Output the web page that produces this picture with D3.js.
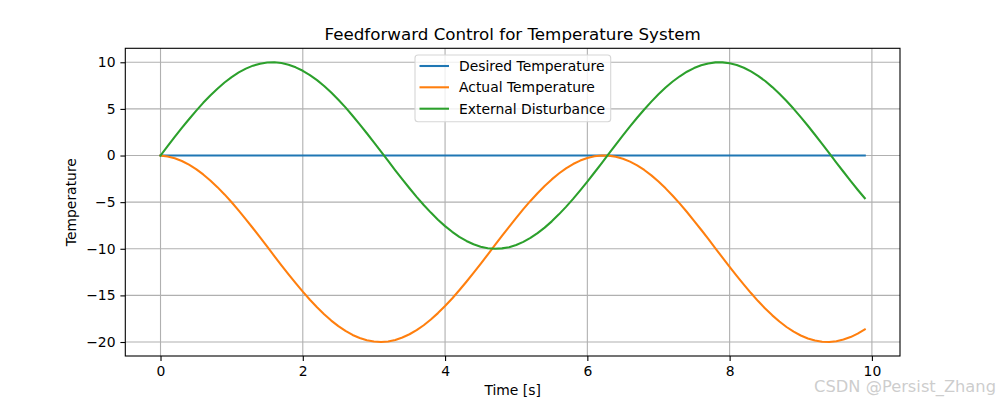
<!DOCTYPE html>
<html>
<head>
<meta charset="utf-8">
<script src="https://cdn.jsdelivr.net/npm/d3@7"></script>
<style>
  html, body { margin: 0; padding: 0; background: #fff; }
  svg { display: block; font-family: "DejaVu Sans", sans-serif; }
</style>
</head>
<body>
<svg id="chart" width="1000" height="400"></svg>
<script>
const time = [0.0,0.1,0.2,0.3,0.4,0.5,0.6,0.7,0.8,0.9,1.0,1.1,1.2,1.3,1.4,1.5,1.6,1.7,1.8,1.9,
  2.0,2.1,2.2,2.3,2.4,2.5,2.6,2.7,2.8,2.9,3.0,3.1,3.2,3.3,3.4,3.5,3.6,3.7,3.8,3.9,
  4.0,4.1,4.2,4.3,4.4,4.5,4.6,4.7,4.8,4.9,5.0,5.1,5.2,5.3,5.4,5.5,5.6,5.7,5.8,5.9,
  6.0,6.1,6.2,6.3,6.4,6.5,6.6,6.7,6.8,6.9,7.0,7.1,7.2,7.3,7.4,7.5,7.6,7.7,7.8,7.9,
  8.0,8.1,8.2,8.3,8.4,8.5,8.6,8.7,8.8,8.9,9.0,9.1,9.2,9.3,9.4,9.5,9.6,9.7,9.8,9.9];

const desired = [0,0,0,0,0,0,0,0,0,0,0,0,0,0,0,0,0,0,0,0,
  0,0,0,0,0,0,0,0,0,0,0,0,0,0,0,0,0,0,0,0,
  0,0,0,0,0,0,0,0,0,0,0,0,0,0,0,0,0,0,0,0,
  0,0,0,0,0,0,0,0,0,0,0,0,0,0,0,0,0,0,0,0,
  0,0,0,0,0,0,0,0,0,0,0,0,0,0,0,0,0,0,0,0];

const actual = [0,-0.10,-0.30,-0.59,-0.98,-1.46,-2.03,-2.67,-3.39,-4.17,
  -5.01,-5.91,-6.84,-7.80,-8.79,-9.78,-10.78,-11.77,-12.75,-13.69,
  -14.60,-15.47,-16.28,-17.02,-17.70,-18.30,-18.81,-19.24,-19.57,-19.81,
  -19.95,-20.00,-19.94,-19.78,-19.52,-19.17,-18.73,-18.20,-17.59,-16.90,
  -16.14,-15.33,-14.45,-13.54,-12.59,-11.61,-10.62,-9.62,-8.62,-7.64,
  -6.68,-5.75,-4.87,-4.04,-3.26,-2.56,-1.93,-1.38,-0.91,-0.54,
  -0.26,-0.08,0.01,-0.01,-0.13,-0.34,-0.65,-1.06,-1.55,-2.13,
  -2.79,-3.52,-4.31,-5.16,-6.06,-7.00,-7.96,-8.95,-9.95,-10.95,
  -11.94,-12.91,-13.85,-14.75,-15.61,-16.41,-17.14,-17.80,-18.39,-18.89,
  -19.30,-19.62,-19.84,-19.97,-19.99,-19.92,-19.74,-19.47,-19.10,-18.65];

const disturbance = [0,1.00,1.99,2.96,3.89,4.79,5.65,6.44,7.17,7.83,
  8.41,8.91,9.32,9.64,9.85,9.97,10.00,9.92,9.74,9.46,
  9.09,8.63,8.09,7.46,6.76,5.98,5.16,4.27,3.35,2.39,
  1.41,0.42,-0.58,-1.58,-2.56,-3.51,-4.43,-5.30,-6.12,-6.88,
  -7.57,-8.18,-8.72,-9.16,-9.52,-9.78,-9.94,-10.00,-9.96,-9.83,
  -9.59,-9.26,-8.84,-8.32,-7.73,-7.06,-6.31,-5.51,-4.65,-3.74,
  -2.79,-1.82,-0.83,0.17,1.17,2.15,3.12,4.05,4.94,5.78,
  6.57,7.29,7.94,8.50,8.99,9.38,9.68,9.88,9.99,9.99,
  9.89,9.70,9.41,9.02,8.55,7.99,7.34,6.63,5.85,5.01,
  4.12,3.19,2.23,1.25,0.25,-0.75,-1.74,-2.72,-3.67,-4.58];

const seriesNames = ["Desired Temperature", "Actual Temperature", "External Disturbance"];
const seriesColors = ["#1f77b4", "#ff7f0e", "#2ca02c"];
const xTicks = [0, 2, 4, 6, 8, 10];
const yTicks = [10, 5, 0, -5, -10, -15, -20];
const titleText = "Feedforward Control for Temperature System";
const xLabel = "Time [s]";
const yLabel = "Temperature";
const watermark = "CSDN @Persist_Zhang";

const svg = d3.select("#chart");
const L = 125.3, R = 900, T = 48.3, B = 356;

const x = d3.scaleLinear().domain([-0.495, 10.395]).range([L, R]);
const y = d3.scaleLinear().domain([-21.5, 11.5]).range([B, T]);

// grid
const grid = svg.append("g");
xTicks.forEach(t => {
  grid.append("line").attr("x1", x(t)).attr("x2", x(t)).attr("y1", T).attr("y2", B)
    .attr("stroke", "#b0b0b0").attr("stroke-width", 1.1);
});
yTicks.forEach(t => {
  grid.append("line").attr("x1", L).attr("x2", R).attr("y1", y(t)).attr("y2", y(t))
    .attr("stroke", "#b0b0b0").attr("stroke-width", 1.1);
});

// lines
const allSeries = [desired, actual, disturbance];
const line = d3.line().x((d, i) => x(time[i])).y(d => y(d));
const clip = svg.append("clipPath").attr("id", "clip").append("rect")
  .attr("x", L).attr("y", T).attr("width", R - L).attr("height", B - T);
allSeries.forEach((s, k) => {
  svg.append("path").datum(s).attr("d", line)
    .attr("fill", "none").attr("stroke", seriesColors[k]).attr("stroke-width", 2.08)
    .attr("stroke-linejoin", "round").attr("stroke-linecap", "square")
    .attr("clip-path", "url(#clip)");
});

// axes
const xAxis = d3.axisBottom(x).tickValues(xTicks).tickFormat(d3.format("d")).tickSize(4.9).tickPadding(4.9);
const yAxis = d3.axisLeft(y).tickValues(yTicks).tickFormat(d => d < 0 ? "\u2212" + Math.abs(d) : String(d)).tickSize(4.9).tickPadding(4.9);
const gx = svg.append("g").attr("transform", `translate(0,${B})`).call(xAxis);
const gy = svg.append("g").attr("transform", `translate(${L},0)`).call(yAxis);
[gx, gy].forEach(g => {
  g.select(".domain").remove();
  g.selectAll(".tick line").attr("stroke", "#000").attr("stroke-width", 1.1);
  g.selectAll(".tick text").attr("fill", "#000").style("font-size", "13.9px").style("font-family", "DejaVu Sans");
});

// spines
svg.append("rect").attr("x", L).attr("y", T).attr("width", R - L).attr("height", B - T)
  .attr("fill", "none").attr("stroke", "#000").attr("stroke-width", 1.1);

// title and labels
svg.append("text").attr("x", (L + R) / 2).attr("y", 40).attr("text-anchor", "middle")
  .style("font-size", "16.7px").attr("fill", "#000").text(titleText);
svg.append("text").attr("x", (L + R) / 2).attr("y", 395).attr("text-anchor", "middle")
  .style("font-size", "13.9px").attr("fill", "#000").text(xLabel);
svg.append("text").attr("transform", `translate(76,${(T + B) / 2}) rotate(-90)`).attr("text-anchor", "middle")
  .style("font-size", "13.9px").attr("fill", "#000").text(yLabel);

// legend
const lg = svg.append("g");
lg.append("rect").attr("x", 415).attr("y", 55).attr("width", 195.7).attr("height", 66.7)
  .attr("rx", 3).attr("fill", "#fff").attr("fill-opacity", 0.8)
  .attr("stroke", "#d6d6d6").attr("stroke-width", 1.1);
const rowY = [66, 87.3, 108.7];
seriesNames.forEach((n, k) => {
  lg.append("line").attr("x1", 419.5).attr("x2", 449).attr("y1", rowY[k]).attr("y2", rowY[k])
    .attr("stroke", seriesColors[k]).attr("stroke-width", 2.08);
  lg.append("text").attr("x", 459).attr("y", rowY[k] + 5).style("font-size", "13.9px")
    .attr("fill", "#000").text(n);
});

// watermark
svg.append("text").attr("x", 996).attr("y", 392).attr("text-anchor", "end")
  .style("font-size", "16.3px").style("font-family", "DejaVu Sans")
  .attr("fill", "#c4c4c4").attr("fill-opacity", 0.85).text(watermark);
</script>
</body>
</html>
